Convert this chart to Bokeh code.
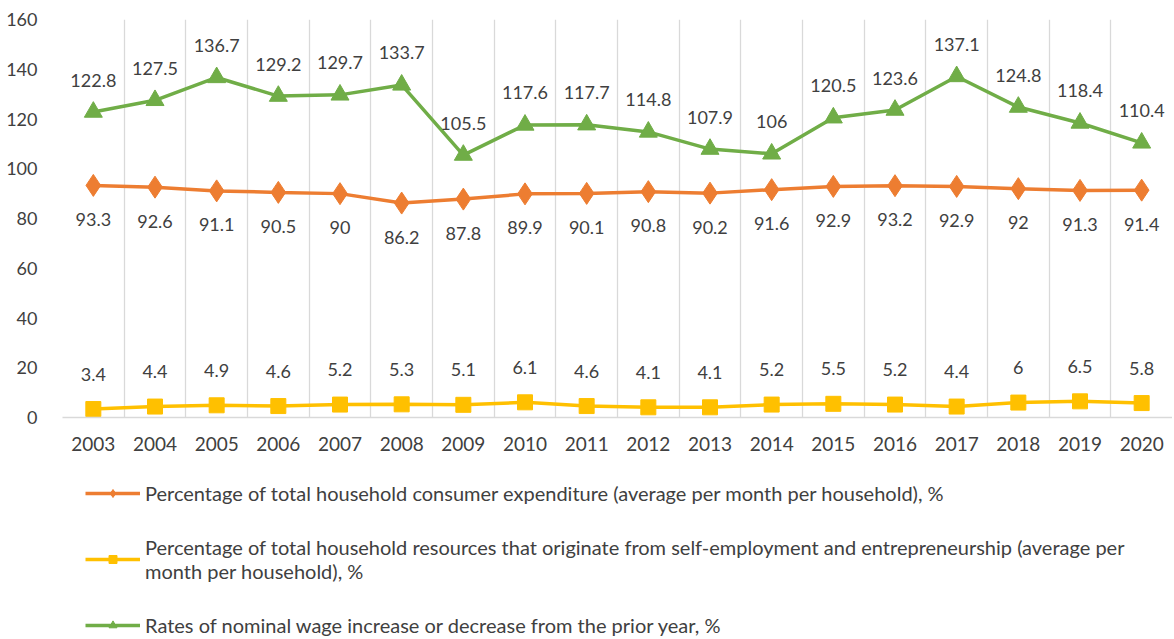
from bokeh.plotting import figure
from bokeh.layouts import column
from bokeh.models import (ColumnDataSource, Range1d, FixedTicker, Legend, LegendItem, LabelSet)
from bokeh.core.properties import value
from bokeh.embed import file_html
from bokeh.resources import INLINE

years = ["2003", "2004", "2005", "2006", "2007", "2008", "2009", "2010", "2011",
         "2012", "2013", "2014", "2015", "2016", "2017", "2018", "2019", "2020"]
consumer_exp = [93.3, 92.6, 91.1, 90.5, 90, 86.2, 87.8, 89.9, 90.1, 90.8, 90.2, 91.6,
                92.9, 93.2, 92.9, 92, 91.3, 91.4]
self_emp = [3.4, 4.4, 4.9, 4.6, 5.2, 5.3, 5.1, 6.1, 4.6, 4.1, 4.1, 5.2, 5.5, 5.2,
            4.4, 6, 6.5, 5.8]
wage_rate = [122.8, 127.5, 136.7, 129.2, 129.7, 133.7, 105.5, 117.6, 117.7, 114.8,
             107.9, 106, 120.5, 123.6, 137.1, 124.8, 118.4, 110.4]
y_ticks = [0, 20, 40, 60, 80, 100, 120, 140, 160]

names = [
    "Percentage of total household consumer expenditure (average per month per household), %",
    "Percentage of total household resources that originate from self-employment and entrepreneurship (average per\nmonth per household), %",
    "Rates of nominal wage increase or decrease from the prior year, %",
]

FONT = "Lato"
TXT = "#404040"
ORANGE = "#ED7D31"
YELLOW = "#FFC000"
GREEN = "#70AD47"
STYLES = [(ORANGE, "diamond", 22), (YELLOW, "square", 15), (GREEN, "triangle", 18)]
COLS = ["ce", "se", "wr"]

xs = list(range(len(years)))

def fmt(v):
    return format(v, "g")

src = ColumnDataSource(dict(
    x=xs, ce=consumer_exp, se=self_emp, wr=wage_rate,
    ce_t=[fmt(v) for v in consumer_exp],
    se_t=[fmt(v) for v in self_emp],
    wr_t=[fmt(v) for v in wage_rate],
))

p = figure(frame_width=1110, frame_height=398, output_backend="svg", toolbar_location=None,
           x_range=Range1d(-0.5, len(years) - 0.5), y_range=Range1d(0, 160),
           min_border_left=62, min_border_right=0, min_border_top=19, min_border_bottom=50)
p.outline_line_color = None

# grid
p.ygrid.grid_line_color = None
p.xgrid.ticker = FixedTicker(ticks=[i - 0.5 for i in range(len(years) + 1)])
p.xgrid.grid_line_color = "#D9D9D9"
p.xgrid.grid_line_width = 1.3

# axes
p.xaxis.ticker = FixedTicker(ticks=xs)
p.xaxis.major_label_overrides = {i: y for i, y in enumerate(years)}
p.xaxis.major_tick_line_color = None
p.xaxis.minor_tick_line_color = None
p.xaxis.axis_line_color = "#D9D9D9"
p.xaxis.axis_line_width = 1.3
p.xaxis.major_label_text_font = FONT
p.xaxis.major_label_text_font_size = "19px"
p.xaxis.major_label_text_color = TXT
p.xaxis.major_label_standoff = 13

p.yaxis.ticker = FixedTicker(ticks=y_ticks)
p.yaxis.major_tick_line_color = None
p.yaxis.minor_tick_line_color = None
p.yaxis.axis_line_color = None
p.yaxis.major_label_text_font = FONT
p.yaxis.major_label_text_font_size = "18px"
p.yaxis.major_label_text_color = TXT
p.yaxis.major_label_standoff = 19

# series
for col, (color, marker, size) in zip(COLS, STYLES):
    p.line("x", col, source=src, line_color=color, line_width=3.5)
    p.scatter("x", col, source=src, marker=marker, size=size, fill_color=color, line_color=color)

common = dict(source=src, text_font=value(FONT), text_font_size=value("18px"), text_color=TXT,
              text_align="center", text_baseline="middle")
p.add_layout(LabelSet(x="x", y="ce", text="ce_t", y_offset=-34, **common))
p.add_layout(LabelSet(x="x", y="se", text="se_t", y_offset=35, **common))
p.add_layout(LabelSet(x="x", y="wr", text="wr_t", y_offset=32, **common))

# legend figure (its ranges keep the series themselves out of view)
q = figure(width=1173, height=172, output_backend="svg", toolbar_location=None,
           x_range=Range1d(1000, 1001), y_range=Range1d(1000, 1001), min_border=0)
q.outline_line_color = None
q.axis.visible = False
q.grid.visible = False
items = []
for name, col, (color, marker, size) in zip(names, COLS, STYLES):
    lr = q.line("x", col, source=src, line_color=color, line_width=3.5)
    mr = q.scatter("x", col, source=src, marker=marker, size=size, fill_color=color, line_color=color)
    items.append(LegendItem(label=name, renderers=[lr, mr]))

legend = Legend(items=items, location=(23, 2), orientation="vertical")
legend.border_line_color = None
legend.background_fill_alpha = 0
legend.label_text_font = FONT
legend.label_text_font_size = "20px"
legend.label_text_color = TXT
legend.glyph_width = 55
legend.glyph_height = 20
legend.label_standoff = 5
legend.spacing = 30
legend.padding = 0
legend.margin = 0
q.add_layout(legend, "center")

open("out.html", "w").write(file_html(column(p, q, spacing=0), INLINE))
